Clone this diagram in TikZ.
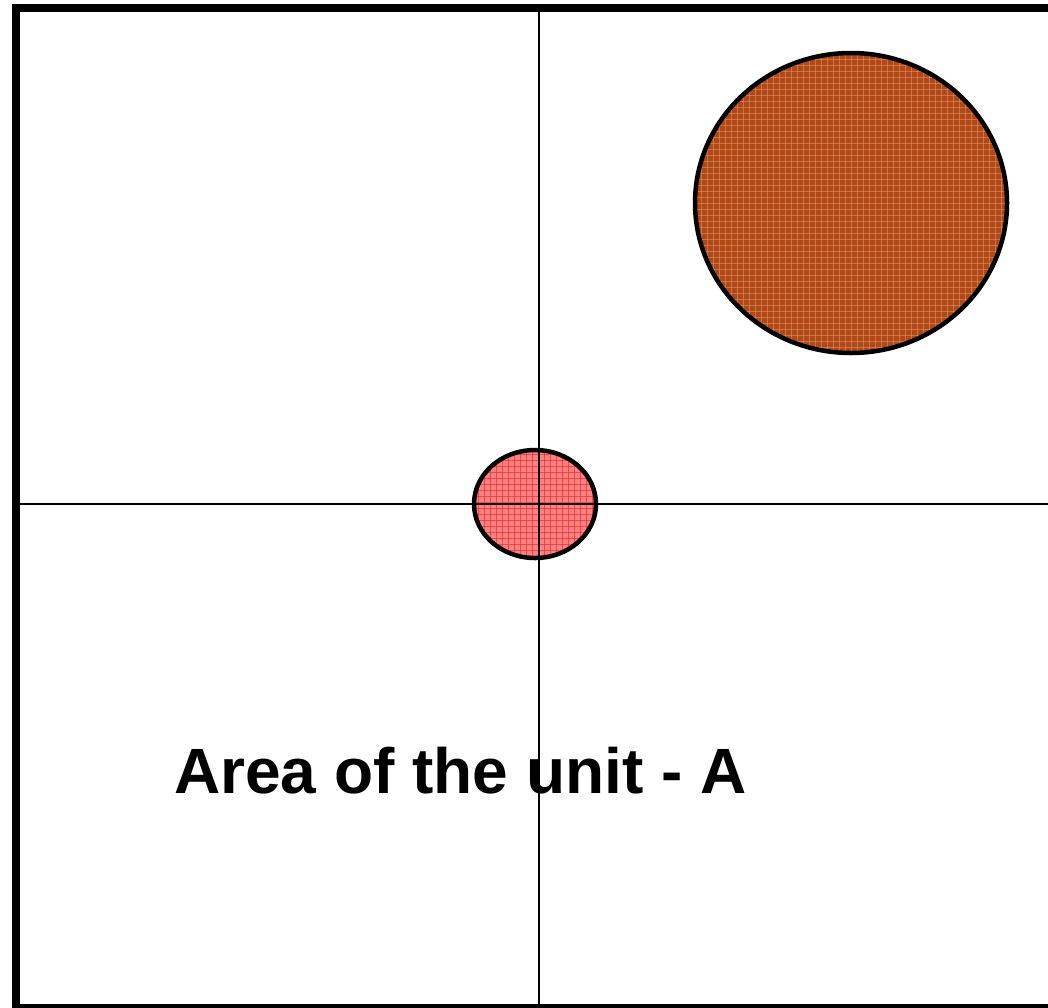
\documentclass[tikz,border=0pt]{standalone}
\usepackage{fontspec}
\setmainfont{Liberation Sans}
\definecolor{brownfill}{RGB}{178,72,22}
\definecolor{brownlite}{RGB}{225,150,110}
\definecolor{redfill}{RGB}{255,130,130}
\definecolor{redline}{RGB}{240,30,30}
\tikzset{
  frame/.style={line width=8pt, draw=black},
  axis/.style={line width=1.5pt, draw=black},
  blob/.style={line width=4.5pt, draw=black},
  lbl/.style={font=\bfseries\fontsize{64}{70}\selectfont, inner sep=0pt, anchor=base west}
}
\begin{document}
\begin{tikzpicture}[x=1pt,y=-1pt]
\useasboundingbox (0,0) rectangle (1048,1007);
\clip (0,0) rectangle (1048,1007);
% frame
\draw[frame] (16,8) rectangle (1060,1008);
% big circle
\coordinate (bc) at (851,203);
\fill[brownfill] (bc) ellipse [x radius=156, y radius=150];
\begin{scope}
\clip (bc) ellipse [x radius=156, y radius=150];
\foreach \i in {0,6,...,320} {
  \draw[brownlite, line width=0.8pt, opacity=0.55] (695+\i,50) -- (695+\i,356);
  \draw[brownlite, line width=0.8pt, opacity=0.55] (692,53+\i) -- (1010,53+\i);
}
\end{scope}
\draw[blob] (bc) ellipse [x radius=156, y radius=150];
% small circle
\coordinate (sc) at (535,504);
\fill[redfill] (sc) ellipse [x radius=61, y radius=54];
\begin{scope}
\clip (sc) ellipse [x radius=61, y radius=54];
\foreach \i in {0,6,...,130} {
  \draw[redline, line width=0.8pt, opacity=0.6] (472+\i,448) -- (472+\i,560);
  \draw[redline, line width=0.8pt, opacity=0.6] (472,448+\i) -- (600,448+\i);
}
\end{scope}
\draw[blob] (sc) ellipse [x radius=61, y radius=54];
% axes
\coordinate (vt) at (539,8);
\coordinate (vb) at (539,1007);
\coordinate (hl) at (16,504);
\coordinate (hr) at (1048,504);
\draw[axis] (vt) -- (vb);
\draw[axis] (hl) -- (hr);
% label
\node[lbl] (label) at (174,793) {Area of the unit - A};
\end{tikzpicture}
\end{document}
